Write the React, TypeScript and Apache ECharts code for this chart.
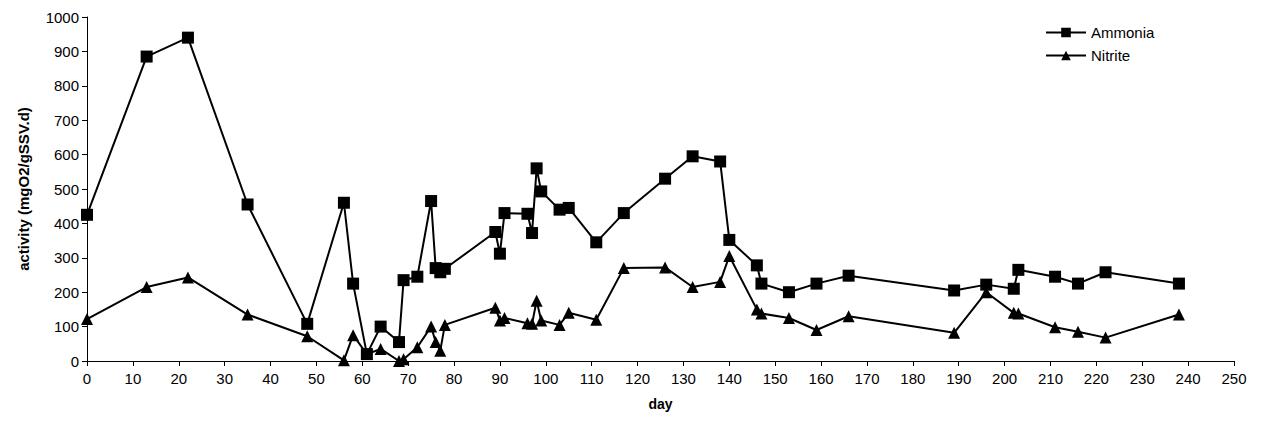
import {useEffect, useRef} from 'react';
import * as echarts from 'echarts';

const ammoniaDays = [0, 13, 22, 35, 48, 56, 58, 61, 64, 68, 69, 72, 75, 76, 77, 78, 89, 90, 91, 96, 97, 98, 99, 103, 105, 111, 117, 126, 132, 138, 140, 146, 147, 153, 159, 166, 189, 196, 202, 203, 211, 216, 222, 238];
const ammoniaValues = [425, 885, 940, 455, 108, 460, 225, 20, 100, 55, 235, 245, 465, 270, 258, 268, 375, 312, 430, 428, 372, 560, 493, 440, 445, 345, 430, 530, 595, 580, 352, 278, 225, 200, 225, 248, 205, 222, 210, 265, 245, 225, 258, 225];
const nitriteDays = [0, 13, 22, 35, 48, 56, 58, 61, 64, 68, 69, 72, 75, 76, 77, 78, 89, 90, 91, 96, 97, 98, 99, 103, 105, 111, 117, 126, 132, 138, 140, 146, 147, 153, 159, 166, 189, 196, 202, 203, 211, 216, 222, 238];
const nitriteValues = [122, 215, 243, 135, 72, 2, 75, 20, 35, 0, 5, 40, 100, 55, 30, 105, 155, 118, 125, 110, 108, 175, 118, 105, 140, 120, 270, 272, 215, 230, 305, 150, 138, 125, 90, 130, 82, 200, 140, 138, 98, 85, 68, 135];

const font = 'Arial, "Liberation Sans", sans-serif';

export default function App() {
    const chartRef = useRef<HTMLDivElement | null>(null);

    useEffect(() => {
        const el = chartRef.current;
        if (!el) return;
        const chart = echarts.init(el, null, {renderer: 'svg'});
        const axisLine = {show: true, lineStyle: {color: '#000', width: 1}};
        chart.setOption({
            animation: false,
            grid: {left: 77, right: 20, top: 9, bottom: 59},
            legend: {
                left: 1032, top: 12, orient: 'vertical', itemGap: 8, itemWidth: 40, itemHeight: 12,
                textStyle: {fontFamily: font, fontSize: 15, color: '#000'},
                data: ['Ammonia', 'Nitrite'],
            },
            xAxis: {
                type: 'value', min: 0, max: 250, interval: 10,
                name: 'day', nameLocation: 'middle', nameGap: 36,
                nameTextStyle: {fontFamily: font, fontSize: 14, fontWeight: 'bold', color: '#000'},
                axisLine, axisTick: {show: true, length: 5, lineStyle: {color: '#000'}},
                splitLine: {show: false},
                axisLabel: {fontFamily: font, fontSize: 15, color: '#000', margin: 10},
            },
            yAxis: {
                type: 'value', min: 0, max: 1000, interval: 100,
                name: 'activity (mgO2/gSSV.d)', nameLocation: 'middle', nameGap: 56,
                nameTextStyle: {fontFamily: font, fontSize: 15, fontWeight: 'bold', color: '#000'},
                axisLine, axisTick: {show: true, length: 5, lineStyle: {color: '#000'}},
                splitLine: {show: false},
                axisLabel: {fontFamily: font, fontSize: 15, color: '#000', margin: 8, formatter: (v: number) => String(v)},
            },
            series: [
                {
                    name: 'Ammonia', type: 'line', symbol: 'rect', symbolSize: 12,
                    data: ammoniaDays.map((d, i) => [d, ammoniaValues[i]]),
                    lineStyle: {color: '#000', width: 2}, itemStyle: {color: '#000'},
                },
                {
                    name: 'Nitrite', type: 'line', symbol: 'triangle', symbolSize: 12,
                    data: nitriteDays.map((d, i) => [d, nitriteValues[i]]),
                    lineStyle: {color: '#000', width: 2}, itemStyle: {color: '#000'},
                },
            ],
        });
        return () => chart.dispose();
    }, []);

    return <div ref={chartRef} style={{width: 1246, height: 412}}/>;
}
